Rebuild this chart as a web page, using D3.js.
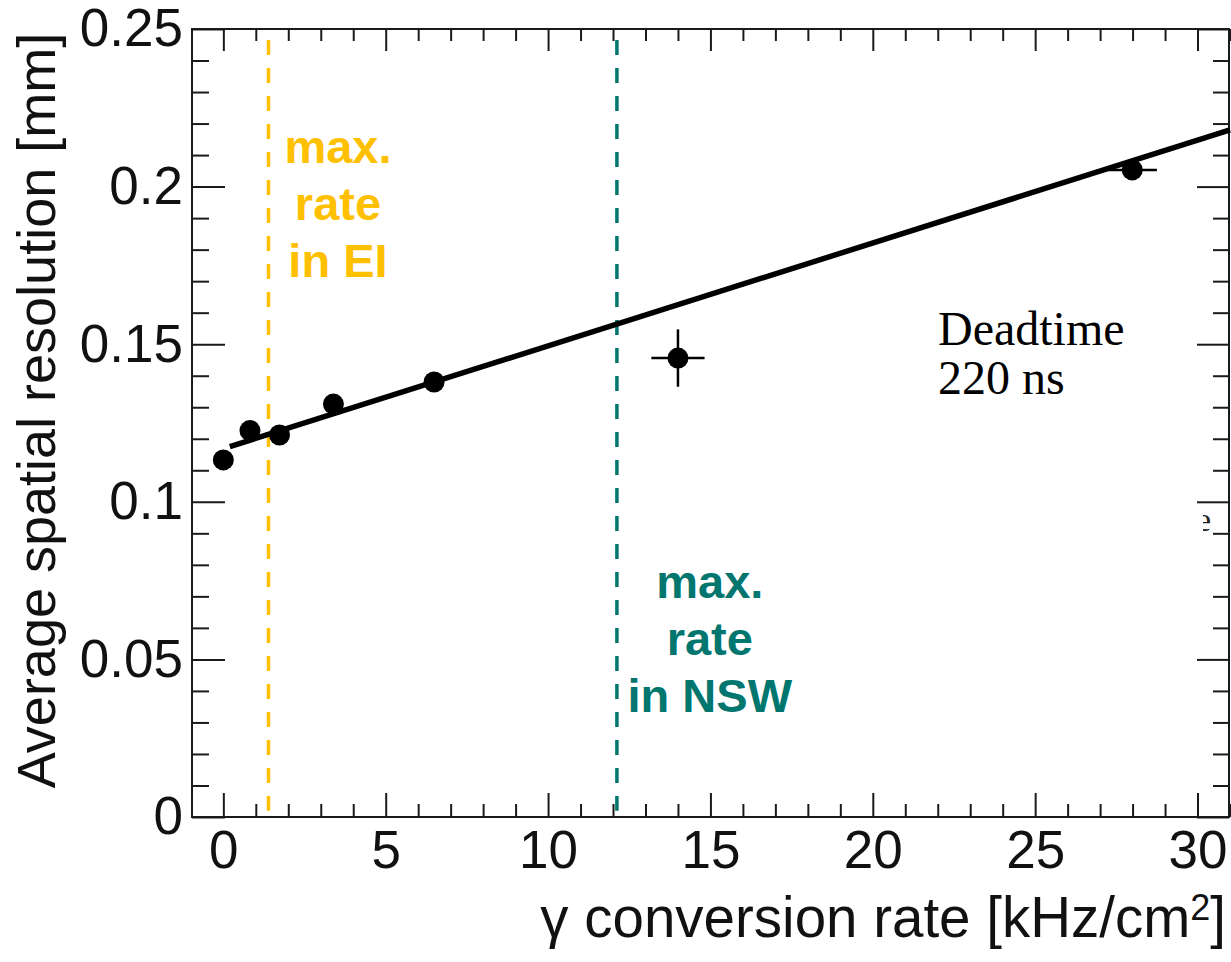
<!DOCTYPE html>
<html>
<head>
<meta charset="utf-8">
<script src="https://cdn.jsdelivr.net/npm/d3@7/dist/d3.min.js"></script>
<style>
  html, body { margin: 0; padding: 0; background: #fff; }
  svg { display: block; }
  .sans { font-family: "Liberation Sans", Arial, Helvetica, sans-serif; }
  .serif { font-family: "Liberation Serif", "Times New Roman", Times, serif; }
</style>
</head>
<body>
<script>
// Measured spatial resolution vs. photon conversion rate
const rate      = [0, 0.82, 1.73, 3.39, 6.49, 14.0, 27.99];
const sigma     = [0.1133, 0.1226, 0.1212, 0.1310, 0.1380, 0.1456, 0.2053];
const rateErr   = [0, 0, 0, 0, 0, 0.82, 0.76];
const sigmaErr  = [0, 0, 0, 0, 0, 0.0091, 0];

// Straight-line fit through the measurements
const fitX = [0.2, 31.0];
const fitY = [0.1175, 0.2180];

// Maximum expected rates
const markerRates  = [1.39, 12.12];
const markerColors = ["#FFC000", "#00766F"];
const markerLabels = [["max.", "rate", "in EI"], ["max.", "rate", "in NSW"]];

const xMajor = [0, 5, 10, 15, 20, 25, 30];
const xMinor = d3.range(0, 32, 1).filter(v => v % 5 !== 0 && v <= 31);
const yMajor = [0, 0.05, 0.1, 0.15, 0.2, 0.25];
const yMinor = d3.range(1, 25).map(v => v / 100).filter(v => Math.round(v * 100) % 5 !== 0);

const W = 1231, H = 962;
const svg = d3.select("body").append("svg").attr("width", W).attr("height", H);
svg.append("rect").attr("width", W).attr("height", H).attr("fill", "#fff");

const x = d3.scaleLinear().domain([-0.965, 31.0]).range([192, 1230]);
const y = d3.scaleLinear().domain([0, 0.25]).range([817, 29]);

const axisColor = "#1a1a1a";

function styleAxis(g) {
  g.select(".domain").remove();
  g.selectAll(".tick line").attr("stroke", axisColor).attr("stroke-width", 2);
  g.selectAll(".tick text").attr("fill", "#111").attr("class", "sans").attr("font-size", 53);
}

// bottom axis
svg.append("g").attr("transform", `translate(0,${y(0)})`)
  .call(d3.axisBottom(x).tickValues(xMajor).tickSize(-24).tickPadding(13).tickFormat(d3.format("d")))
  .call(styleAxis);
svg.append("g").attr("transform", `translate(0,${y(0)})`)
  .call(d3.axisBottom(x).tickValues(xMinor).tickSize(-13).tickFormat(""))
  .call(styleAxis);
// top axis
svg.append("g").attr("transform", `translate(0,${y(0.25)})`)
  .call(d3.axisTop(x).tickValues(xMajor).tickSize(-22).tickFormat(""))
  .call(styleAxis);
svg.append("g").attr("transform", `translate(0,${y(0.25)})`)
  .call(d3.axisTop(x).tickValues(xMinor).tickSize(-12).tickFormat(""))
  .call(styleAxis);
// left axis
svg.append("g").attr("transform", `translate(${x(-0.965)},0)`)
  .call(d3.axisLeft(y).tickValues(yMajor).tickSize(-33).tickPadding(9).tickFormat(d => d === 0 ? "0" : String(+d.toFixed(2))))
  .call(styleAxis);
svg.append("g").attr("transform", `translate(${x(-0.965)},0)`)
  .call(d3.axisLeft(y).tickValues(yMinor).tickSize(-17).tickFormat(""))
  .call(styleAxis);
// right axis
svg.append("g").attr("transform", `translate(${x(31.0) - 1},0)`)
  .call(d3.axisRight(y).tickValues(yMajor).tickSize(-32).tickFormat(""))
  .call(styleAxis);
svg.append("g").attr("transform", `translate(${x(31.0) - 1},0)`)
  .call(d3.axisRight(y).tickValues(yMinor).tickSize(-16).tickFormat(""))
  .call(styleAxis);

// frame
svg.append("rect")
  .attr("x", x(-0.965)).attr("y", y(0.25))
  .attr("width", x(31.0) - x(-0.965) - 1).attr("height", y(0) - y(0.25))
  .attr("fill", "none").attr("stroke", axisColor).attr("stroke-width", 2);

// vertical dashed rate markers
const markerTop = 0.2465, markerBottom = 0.002;
markerRates.forEach((r, i) => {
  svg.append("line")
    .attr("x1", x(r)).attr("x2", x(r))
    .attr("y1", y(markerTop)).attr("y2", y(markerBottom))
    .attr("stroke", markerColors[i]).attr("stroke-width", 3.5)
    .attr("stroke-dasharray", "15,13");
});

// marker annotations (centre rate, first baseline)
const labelPos = [{cx: 3.53, y0: 0.2075}, {cx: 14.98, y0: 0.0695}];
markerLabels.forEach((lines, i) => {
  const t = svg.append("text").attr("class", "sans")
    .attr("font-size", 47).attr("font-weight", "bold")
    .attr("fill", markerColors[i]).attr("text-anchor", "middle");
  lines.forEach((s, k) => {
    t.append("tspan").attr("x", x(labelPos[i].cx))
      .attr("y", y(labelPos[i].y0) + k * 57).text(s);
  });
});

// fit line
const fitPts = fitX.map((v, i) => [v, fitY[i]]);
svg.append("path").datum(fitPts)
  .attr("d", d3.line().x(d => x(d[0])).y(d => y(d[1])))
  .attr("fill", "none").attr("stroke", "#000").attr("stroke-width", 5.5);

// measurements with error bars
const pts = rate.map((r, i) => ({r, s: sigma[i], er: rateErr[i], es: sigmaErr[i]}));
const g = svg.append("g");
pts.forEach(p => {
  if (p.er > 0) g.append("line")
    .attr("x1", x(p.r - p.er)).attr("x2", x(p.r + p.er))
    .attr("y1", y(p.s)).attr("y2", y(p.s))
    .attr("stroke", "#000").attr("stroke-width", 2.5);
  if (p.es > 0) g.append("line")
    .attr("x1", x(p.r)).attr("x2", x(p.r))
    .attr("y1", y(p.s - p.es)).attr("y2", y(p.s + p.es))
    .attr("stroke", "#000").attr("stroke-width", 2.5);
});
g.selectAll("circle").data(pts).join("circle")
  .attr("cx", d => x(d.r)).attr("cy", d => y(d.s)).attr("r", 10.5).attr("fill", "#000");

// deadtime note
const note = svg.append("text").attr("class", "serif").attr("font-size", 48).attr("fill", "#000");
note.append("tspan").attr("x", 938).attr("y", 345).text("Deadtime");
note.append("tspan").attr("x", 938).attr("y", 394).text("220 ns");

// partly hidden glyph at the right edge
svg.append("clipPath").attr("id", "edgeClip")
  .append("rect").attr("x", 1203).attr("y", 505).attr("width", 12).attr("height", 32);
svg.append("text").attr("class", "serif").attr("font-size", 34).attr("fill", "#222")
  .attr("x", 1196).attr("y", 531).attr("clip-path", "url(#edgeClip)").text("e");

// axis titles
svg.append("text").attr("class", "sans").attr("font-size", 54).attr("fill", "#111")
  .attr("text-anchor", "middle")
  .attr("transform", `translate(55,${(29 + 792) / 2}) rotate(-90)`)
  .text("Average spatial resolution [mm]");

const xt = svg.append("text").attr("class", "sans").attr("font-size", 56.5).attr("fill", "#111")
  .attr("text-anchor", "end").attr("x", 1226).attr("y", 937);
xt.append("tspan").text("γ conversion rate [kHz/cm");
xt.append("tspan").attr("font-size", 36).attr("dy", -17).text("2");
xt.append("tspan").attr("dy", 17).text("]");
</script>
</body>
</html>
